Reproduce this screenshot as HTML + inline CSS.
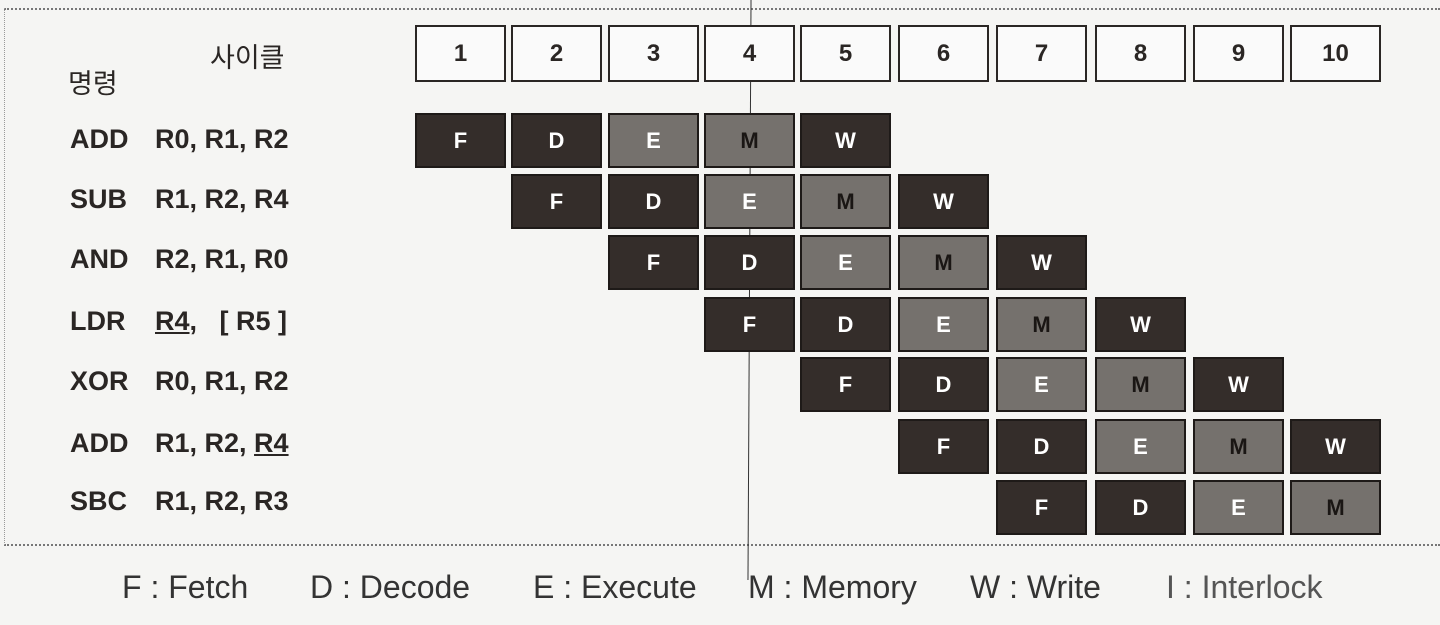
<!DOCTYPE html>
<html><head><meta charset="utf-8"><style>
body{margin:0;width:1440px;height:625px;background:#f5f5f3;position:relative;overflow:hidden;font-family:"Liberation Sans","Noto Sans CJK KR",sans-serif;color:#2a2624}
.a{position:absolute}
.h{position:absolute;top:25px;width:87px;height:53px;border:2px solid #2a2624;background:#fafafa;font-weight:bold;font-size:24px;text-align:center;line-height:53px}
.b{position:absolute;width:87px;height:51px;border:2px solid #1e1a18;font-weight:bold;font-size:22px;text-align:center;line-height:51px;color:#fff}
.d{background:#342d2a}
.g{background:#75716d}
.g.m{color:#1a1614}
.i,.o{position:absolute;font-weight:bold;font-size:27px;line-height:28px;white-space:pre}
.i{left:70px}.o{left:155px}
.l{position:absolute;top:569px;font-size:32px;color:#333}
</style></head><body>
<div class="a" style="left:4px;top:8px;width:1436px;border-top:2px dotted #777"></div>
<div class="a" style="left:4px;top:544px;width:1436px;border-top:2px dotted #777"></div>
<div class="a" style="left:4px;top:8px;height:537px;border-left:1px dotted #999"></div>
<div class="a" style="left:749px;top:0;width:0;height:580px;border-left:1px solid #333;transform:rotate(0.3deg)"></div>
<div class="a" style="left:210px;top:36px;font-size:27px">사이클</div>
<div class="a" style="left:68px;top:62px;font-size:27px">명령</div>
<div class="i" style="top:125px">ADD</div><div class="o" style="top:125px">R0, R1, R2</div>
<div class="i" style="top:185px">SUB</div><div class="o" style="top:185px">R1, R2, R4</div>
<div class="i" style="top:245px">AND</div><div class="o" style="top:245px">R2, R1, R0</div>
<div class="i" style="top:307px">LDR</div><div class="o" style="top:307px"><u>R4</u>,   [ R5 ]</div>
<div class="i" style="top:367px">XOR</div><div class="o" style="top:367px">R0, R1, R2</div>
<div class="i" style="top:429px">ADD</div><div class="o" style="top:429px">R1, R2, <u>R4</u></div>
<div class="i" style="top:487px">SBC</div><div class="o" style="top:487px">R1, R2, R3</div>
<div id="g"></div>
<div class="l" style="left:122px">F : Fetch</div>
<div class="l" style="left:310px">D : Decode</div>
<div class="l" style="left:533px">E : Execute</div>
<div class="l" style="left:748px">M : Memory</div>
<div class="l" style="left:970px">W : Write</div>
<div class="l" style="left:1166px;color:#555">I : Interlock</div>
<script>
var X=[415,511,608,704,800,898,996,1095,1193,1290],Y=[113,174,235,297,357,419,480],P="FDEMW",s="";
for(var c=0;c<10;c++)s+='<div class="h" style="left:'+X[c]+'px">'+(c+1)+'</div>';
for(var r=0;r<7;r++)for(var k=0;k<5;k++){var c=r+k;if(c>9)break;var p=P[k];var cl=(p=="E"||p=="M")?"g":"d";if(p=="M")cl+=" m";
s+='<div class="b '+cl+'" style="left:'+X[c]+'px;top:'+Y[r]+'px">'+p+'</div>';}
document.getElementById("g").innerHTML=s;
</script>
</body></html>
